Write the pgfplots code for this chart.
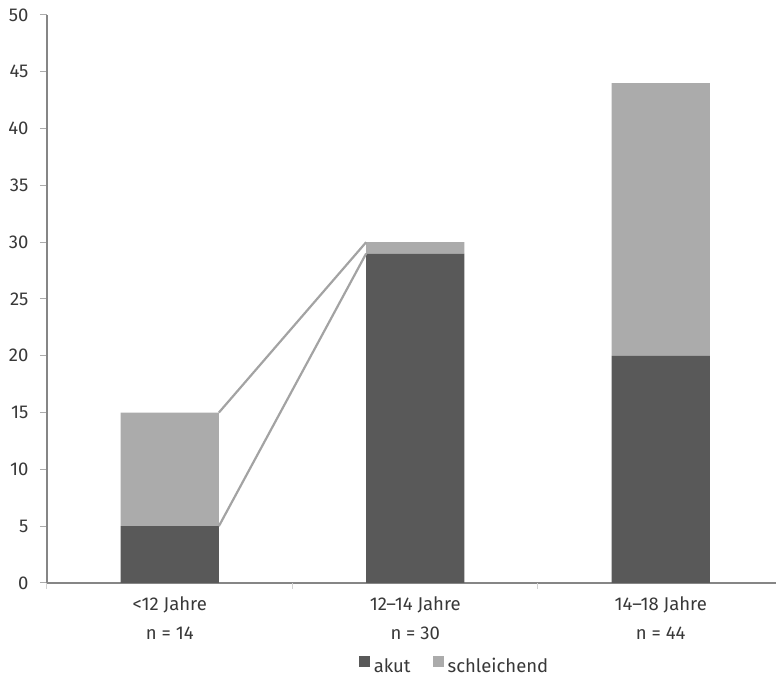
\documentclass[border=0pt]{standalone}
\usepackage{fontspec}
\setmainfont{Fira Sans}
\usepackage{pgfplots}
\pgfplotsset{compat=1.18}

\definecolor{akut}{HTML}{595959}
\definecolor{schl}{HTML}{ABABAB}
\definecolor{conn}{HTML}{A3A3A3}
\definecolor{axisgray}{HTML}{868686}
\definecolor{txt}{HTML}{383838}

% shared geometry of the bar axis and the connector axis
\pgfplotsset{
  base/.style={
    scale only axis, width=729pt, height=568pt,
    xmin=-0.5, xmax=2.4695, ymin=0, ymax=50,
  }
}

\begin{document}
\begin{tikzpicture}[font=\fontsize{18.5}{29}\selectfont]
\begin{axis}[base,
  ybar stacked, bar width=0.4,
  axis lines*=left,
  axis line style={axisgray, line width=1.3pt},
  tick align=outside,
  ytick={0,5,...,50},
  ytick style={draw=gray!65, line width=1pt},
  major tick length=7pt,
  yticklabel style={text=txt, xshift=-8pt},
  xtick={0,1,2},
  xticklabels={{<12 Jahre\\n = 14},{12–14 Jahre\\n = 30},{14–18 Jahre\\n = 44}},
  xticklabel style={align=center, text=txt, yshift=-3pt},
  major x tick style={draw=none},
  extra x ticks={-0.5,0.5,1.5}, extra x tick labels={},
  extra x tick style={major x tick style={draw=gray!35, line width=1pt}, major tick length=6pt},
  /pgf/number format/assume math mode=true,
  legend style={draw=none, fill=none, at={(0.559,-0.146)}, anchor=center,
    legend columns=2, text=txt,
    /tikz/every odd column/.append style={column sep=2pt},
    /tikz/every even column/.append style={column sep=20pt}},
  legend image code/.code={\fill[#1] (0pt,-1pt) rectangle (11pt,10pt);},
]
\addplot[fill=akut, draw=none] coordinates {(0,5) (1,29) (2,20)};
\addplot[fill=schl, draw=none] coordinates {(0,10) (1,1) (2,24)};
\legend{akut, schleichend}
\end{axis}
% series lines joining the segment tops of the first two bars
\begin{axis}[base, hide axis]
\addplot[conn, line width=2.2pt] coordinates {(0.2,15) (0.8,30)};
\addplot[conn, line width=2.2pt] coordinates {(0.2,5) (0.8,29)};
\end{axis}
\pgfresetboundingbox
\useasboundingbox (-47pt,-93pt) rectangle (729pt,583pt);
\end{tikzpicture}
\end{document}
